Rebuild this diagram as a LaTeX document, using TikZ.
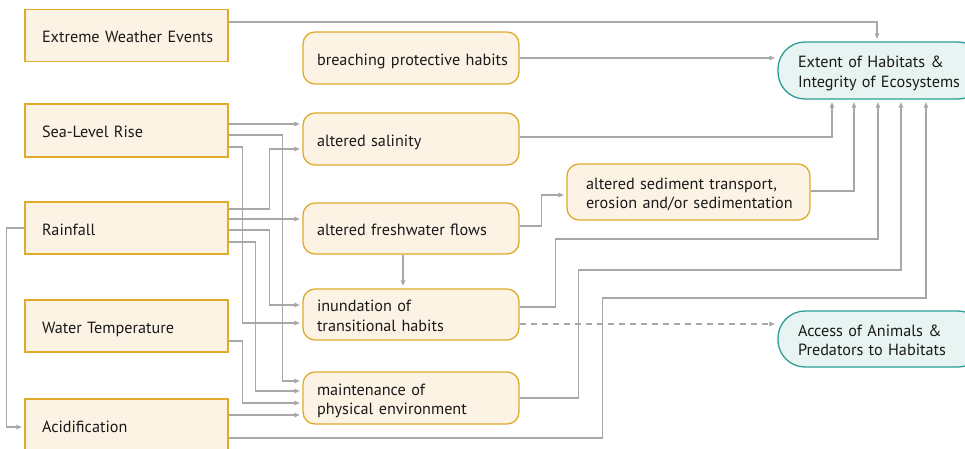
\documentclass[tikz,border=0pt]{standalone}
\usepackage{fontspec}
\setmainfont{PT Sans}
\usetikzlibrary{arrows.meta,calc}
\definecolor{tanfill}{HTML}{FCF3E5}
\definecolor{goldline}{HTML}{E0AA2A}
\definecolor{tealfill}{HTML}{E8F4F2}
\definecolor{tealline}{HTML}{2A9D94}
\definecolor{conngray}{HTML}{A8A8A8}
\definecolor{txt}{HTML}{1A1A1A}
\begin{document}
\begin{tikzpicture}[x=1pt,y=-1pt,
  every node/.style={font=\fontsize{16.2}{19.5}\selectfont, text=txt,
    execute at begin node={\rule{0pt}{18pt}},
    execute at end node={\rule[-4pt]{0pt}{4pt}}},
  driver/.style={draw=goldline, fill=tanfill, line width=1.3pt, rectangle,
    text width=169pt, inner xsep=17pt, inner ysep=0pt, minimum height=52pt, align=left},
  effect/.style={draw=goldline, fill=tanfill, line width=1.3pt, rectangle, rounded corners=12pt,
    text width=188pt, inner xsep=14pt, inner ysep=0pt, minimum height=52pt, align=left},
  outcome/.style={draw=tealline, fill=tealfill, line width=1.3pt, rectangle, rounded corners=27pt,
    text width=167pt, inner xsep=20pt, inner ysep=0pt, minimum height=57pt, align=left},
  conn/.style={draw=conngray, line width=1.1pt, -{Triangle[length=5.5pt,width=4.5pt]}, shorten >=2.5pt},
  dconn/.style={conn, dashed, dash pattern=on 6pt off 5pt}
]
\useasboundingbox (0,0) rectangle (965,448);

% drivers
\node[driver] (ewe) at (126.5,35.5) {\mbox{Extreme Weather Events}};
\node[driver, minimum height=53pt] (slr) at (126.5,130.5) {\mbox{Sea-Level Rise}};
\node[driver] (rain) at (126.5,228) {\mbox{Rainfall}};
\node[driver] (wt) at (126.5,326) {\mbox{Water Temperature}};
\node[driver] (acid) at (126.5,425) {\mbox{Acidification}};

% effects
\node[effect] (bph) at (411,58) {\mbox{breaching protective habits}};
\node[effect] (sal) at (411,139) {\mbox{altered salinity}};
\node[effect, minimum height=51pt] (fw) at (411,228.5) {\mbox{altered freshwater flows}};
\node[effect, minimum height=51pt] (inu) at (411,314.5) {\mbox{inundation of}\\\mbox{transitional habits}};
\node[effect] (mpe) at (411,398) {\mbox{maintenance of}\\\mbox{physical environment}};
\node[effect, text width=205pt, inner xsep=19pt, minimum height=56pt] (sed) at (688.5,192)
  {\mbox{altered sediment transport,}\\\mbox{erosion and/or sedimentation}};

% outcomes
\node[outcome] (ext) at (881.5,70.5) {\mbox{Extent of Habitats \&}\\\mbox{Integrity of Ecosystems}};
\node[outcome, minimum height=56pt] (acc) at (881.5,339) {\mbox{Access of Animals \&}\\\mbox{Predators to Habitats}};

% connectors to Extent
\draw[conn] ($(ewe.east)+(0,-13.5)$) -| ($(ext.north)+(-4.5,0)$);
\draw[conn] (bph.east) -- (bph.east -| ext.west);
\draw[conn] ($(sal.east)+(0,-2)$) -| ($(ext.south)+(-49.5,0)$);
\draw[conn] ($(sed.east)+(0,-1)$) -| ($(ext.south)+(-27.5,0)$);
\draw[conn] ($(inu.east)+(0,-7.5)$) -- ++(36,0) -- ++(0,-68) -| ($(ext.south)+(-3.5,0)$);
\draw[conn] (mpe.east) -- ++(59,0) -- ++(0,-128) -| ($(ext.south)+(19.5,0)$);
\draw[conn] ($(acid.east)+(0,13)$) -- ++(374,0) -- ++(0,-140) -| ($(ext.south)+(44.5,0)$);

% effect to effect
\draw[conn] ($(fw.east)+(0,-2.5)$) -- ++(22,0) |- ($(sed.west)+(0,3)$);
\draw[conn] ($(fw.south)+(-8,0)$) -- ($(inu.north)+(-8,0)$);
\draw[dconn] ($(inu.east)+(0,9.5)$) coordinate (d1) -- (d1 -| acc.west);

% drivers to effects
\draw[conn] ($(slr.east)+(0,-6.5)$) coordinate (s1) -- (s1 -| sal.west);
\draw[conn] ($(slr.east)+(0,4.5)$) -- ++(54,0) |- ($(mpe.west)+(0,-17)$);
\draw[conn] ($(slr.east)+(0,16.5)$) -- ++(14,0) |- ($(inu.west)+(0,8.5)$);
\draw[conn] ($(rain.east)+(0,-19)$) -- ++(41,0) |- ($(sal.west)+(0,10)$);
\draw[conn] ($(rain.east)+(0,-9)$) coordinate (r2) -- (r2 -| fw.west);
\draw[conn] ($(rain.east)+(0,2)$) -- ++(41,0) |- ($(inu.west)+(0,-9.5)$);
\draw[conn] ($(rain.east)+(0,14)$) -- ++(27,0) |- ($(mpe.west)+(0,-7)$);
\draw[conn] ($(wt.east)+(0,15)$) -- ++(14,0) |- ($(mpe.west)+(0,5)$);
\draw[conn] ($(acid.east)+(0,-10)$) coordinate (a1) -- (a1 -| mpe.west);
\draw[conn] (rain.west) -- ++(-18,0) |- ($(acid.west)+(0,2)$);
\end{tikzpicture}
\end{document}
